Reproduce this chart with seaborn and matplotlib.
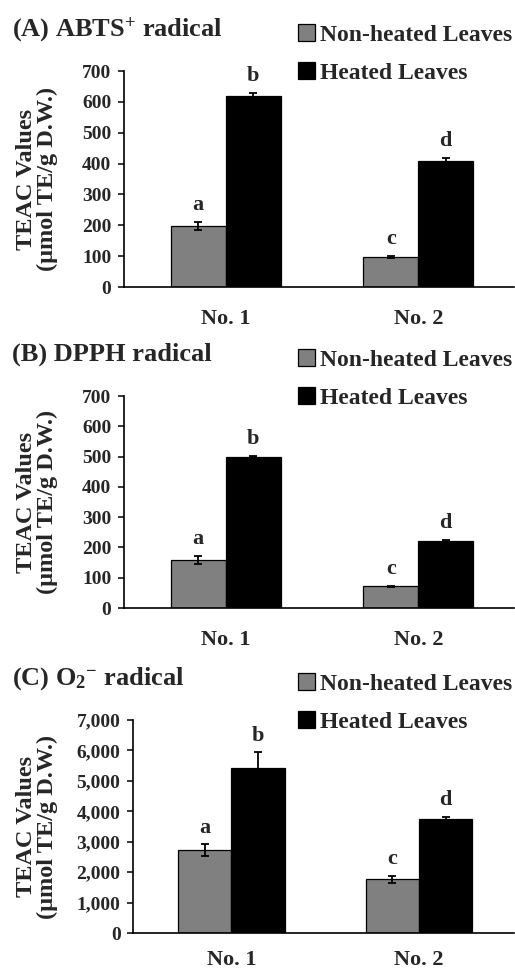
import matplotlib
matplotlib.use("Agg")
import matplotlib.pyplot as plt
import numpy as np
import pandas as pd
import seaborn as sns
from matplotlib.patches import Patch
from matplotlib.ticker import FuncFormatter

# ---------------- data ----------------
samples = ["No. 1", "No. 2"]
treatments = ["Non-heated Leaves", "Heated Leaves"]

abts_nonheated = [199, 98]
abts_nonheated_err = [13, 3]
abts_heated = [620, 407]
abts_heated_err = [8, 12]

dpph_nonheated = [158, 71]
dpph_nonheated_err = [13, 3]
dpph_heated = [499, 222]
dpph_heated_err = [2, 4]

o2_nonheated = [2728, 1764]
o2_nonheated_err = [186, 120]
o2_heated = [5412, 3746]
o2_heated_err = [526, 66]

letters_nonheated = ["a", "c"]
letters_heated = ["b", "d"]

titles = [r"(A) ABTS$^{+}$ radical", "(B) DPPH radical", r"(C) O$_{2}$$^{-}$ radical"]
y_ticks = [[0, 100, 200, 300, 400, 500, 600, 700],
           [0, 100, 200, 300, 400, 500, 600, 700],
           [0, 1000, 2000, 3000, 4000, 5000, 6000, 7000]]
ylabel = "TEAC Values\n(\u03bcmol TE/g D.W.)"

# ---------------- style ----------------
sns.set_theme(style="white")
plt.rcParams["font.family"] = ["Liberation Serif", "DejaVu Serif"]
plt.rcParams["font.weight"] = "bold"
plt.rcParams["mathtext.fontset"] = "custom"
plt.rcParams["mathtext.rm"] = "Liberation Serif:bold"
plt.rcParams["mathtext.bf"] = "Liberation Serif:bold"
plt.rcParams["mathtext.it"] = "Liberation Serif:bold"
plt.rcParams["mathtext.default"] = "rm"

colors = {"Non-heated Leaves": "#808080", "Heated Leaves": "#000000"}

W, H = 515, 972
fig = plt.figure(figsize=(W / 100, H / 100), dpi=100)

def fx(px):
    return px / W

def fy(py):
    return 1 - py / H

# axes boxes in pixels: left, top, right, bottom
boxes = [(124, 71, 514, 287), (124, 396, 514, 608), (133, 720, 514, 933)]
xlims = [(-0.528, 1.497), (-0.528, 1.497), (-0.525, 1.507)]
xpads = [16, 16, 12]

panels = [
    (abts_nonheated, abts_nonheated_err, abts_heated, abts_heated_err),
    (dpph_nonheated, dpph_nonheated_err, dpph_heated, dpph_heated_err),
    (o2_nonheated, o2_nonheated_err, o2_heated, o2_heated_err),
]

for i, (nh, nh_e, h, h_e) in enumerate(panels):
    l, t, r, b = boxes[i]
    ax = fig.add_axes([fx(l), fy(b), fx(r) - fx(l), (b - t) / H])
    df = pd.DataFrame({
        "sample": samples * 2,
        "treatment": [treatments[0]] * 2 + [treatments[1]] * 2,
        "value": list(nh) + list(h),
    })
    sns.barplot(data=df, x="sample", y="value", hue="treatment",
                hue_order=treatments, order=samples, palette=colors,
                width=0.57, errorbar=None, edgecolor="black", linewidth=0.9,
                legend=False, ax=ax)
    errs = [nh_e, h_e]
    vals = [nh, h]
    lets = [letters_nonheated, letters_heated]
    bar_conts = list(ax.containers)
    for k, cont in enumerate(bar_conts):
        xs = [p.get_x() + p.get_width() / 2 for p in cont.patches]
        ax.errorbar(xs, vals[k], yerr=errs[k], fmt="none", ecolor="black",
                    elinewidth=1.3, capsize=3.2, capthick=1.3, zorder=5)
        for xx, v, e, lt in zip(xs, vals[k], errs[k], lets[k]):
            ax.annotate(lt, (xx, v + e), xytext=(0, 8.5), textcoords="offset points",
                        ha="center", va="baseline", fontsize=16, fontweight="bold")
    ax.set_xlim(*xlims[i])
    ax.set_ylim(y_ticks[i][0], y_ticks[i][-1])
    ax.set_yticks(y_ticks[i])
    if i == 2:
        ax.yaxis.set_major_formatter(FuncFormatter(lambda v, p: f"{int(v):,}"))
    ax.set_xlabel("")
    ax.set_ylabel(ylabel, fontsize=17.5, fontweight="bold", linespacing=1.05)
    ax.yaxis.label.set_verticalalignment("center")
    ax.yaxis.set_label_coords((37 - l) / (r - l), 0.5)
    for s in ["top", "right"]:
        ax.spines[s].set_visible(False)
    for s in ["left", "bottom"]:
        ax.spines[s].set_color("black")
        ax.spines[s].set_linewidth(1.2)
    ax.tick_params(axis="y", direction="out", length=4, width=1.1, color="black",
                   labelsize=14, pad=5, left=True)
    ax.tick_params(axis="x", length=0, labelsize=16, pad=xpads[i])
    for lab in ax.get_xticklabels() + ax.get_yticklabels():
        lab.set_fontweight("bold")
    ax.set_facecolor("none")

    # title
    fig.text(fx(12), fy(t - 35), titles[i], fontsize=19, fontweight="bold",
             ha="left", va="baseline")
    # legend
    handles = [Patch(facecolor=colors[tr], edgecolor="black", linewidth=0.9) for tr in treatments]
    fig.legend(handles, treatments, loc="upper left",
               bbox_to_anchor=(fx(298), fy(t - 47)), bbox_transform=fig.transFigure,
               frameon=False, prop={"weight": "bold", "size": 17},
               handlelength=0.7, handleheight=0.7, handletextpad=0.25,
               labelspacing=0.7, borderpad=0, borderaxespad=0)

fig.savefig("out.png", dpi=100)
